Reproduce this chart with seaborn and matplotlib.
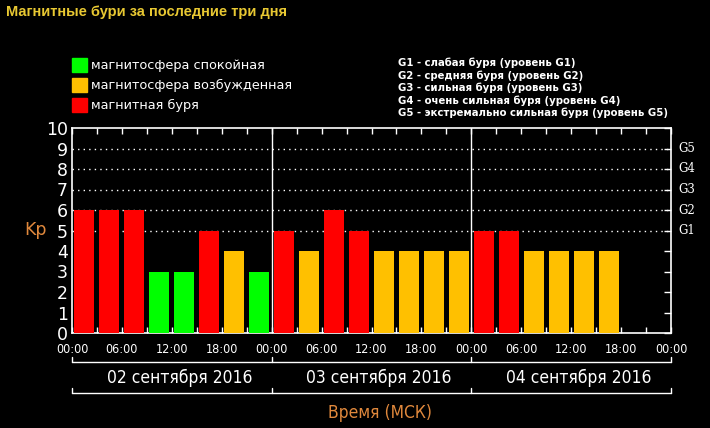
import matplotlib
matplotlib.use("Agg")
import matplotlib.pyplot as plt
from matplotlib.patches import Rectangle
import seaborn as sns
import pandas as pd

# ---------------- data ----------------
slot_start = [0, 3, 6, 9, 12, 15, 18, 21,
              24, 27, 30, 33, 36, 39, 42, 45,
              48, 51, 54, 57, 60, 63]
kp = [6, 6, 6, 3, 3, 5, 4, 3,
      5, 4, 6, 5, 4, 4, 4, 4,
      5, 5, 4, 4, 4, 4]
day_labels = ["02 сентября 2016", "03 сентября 2016", "04 сентября 2016"]
xtick_pos = [0, 6, 12, 18, 24, 30, 36, 42, 48, 54, 60, 66, 72]
xtick_labels = ["00:00", "06:00", "12:00", "18:00"] * 3 + ["00:00"]
g_levels = [5, 6, 7, 8, 9]
g_labels = ["G1", "G2", "G3", "G4", "G5"]
legend_labels = ["магнитосфера спокойная", "магнитосфера возбужденная", "магнитная буря"]
g_descr = ["G1 - слабая буря (уровень G1)",
           "G2 - средняя буря (уровень G2)",
           "G3 - сильная буря (уровень G3)",
           "G4 - очень сильная буря (уровень G4)",
           "G5 - экстремально сильная буря (уровень G5)"]
title = "Магнитные бури за последние три дня"

GREEN, ORANGE, RED = "#00ff00", "#ffc000", "#ff0000"
palette = {"quiet": GREEN, "active": ORANGE, "storm": RED}
level = ["quiet" if v < 4 else ("active" if v == 4 else "storm") for v in kp]
df = pd.DataFrame({"t": [s + 1.5 for s in slot_start], "kp": kp, "level": level})

# ---------------- style ----------------
sns.set_style("dark", rc={"axes.facecolor": "black", "figure.facecolor": "black",
                          "axes.edgecolor": "white", "axes.grid": False})
plt.rcParams["font.family"] = ["DejaVu Sans"]

W, H = 710, 428
fig = plt.figure(figsize=(W / 100, H / 100), dpi=100)
fig.patch.set_facecolor("black")
L, R, T, B = 72, 671, 128, 333
ax = fig.add_axes([L / W, 1 - B / H, (R - L) / W, (B - T) / H])
ax.set_facecolor("black")

def fx(x):
    return x / W

def fy(y):
    return 1 - y / H

sns.barplot(data=df, x="t", y="kp", hue="level", palette=palette, native_scale=True,
            dodge=False, errorbar=None, legend=False, ax=ax, width=0.8,
            saturation=1, linewidth=0, zorder=3)

ax.set_xlim(0, 72)
ax.set_ylim(0, 10)
ax.set_xlabel("")
ax.set_ylabel("")

for s in ax.spines.values():
    s.set_color("white")
    s.set_linewidth(1.2)

# dotted gridlines at G levels
for g in g_levels:
    ax.axhline(g, color="white", lw=1, ls=(0, (1, 3)), zorder=1)
# day separators
for d in (24, 48):
    ax.axvline(d, color="white", lw=1, zorder=1)

NARROW = dict(family="DejaVu Sans", fontstretch="condensed")

ax.set_xticks(xtick_pos)
ax.set_xticklabels(xtick_labels, fontsize=9, color="white", **NARROW)
ax.set_xticks(list(range(0, 73, 3)), minor=True)
ax.tick_params(axis="x", which="both", direction="in", top=True, bottom=True,
               length=4, color="white", width=1, pad=7)
ax.set_yticks(range(0, 11))
ax.set_yticklabels([str(i) for i in range(0, 11)], fontsize=12.5, color="white")
ax.tick_params(axis="y", which="both", direction="in", left=False, right=True,
               length=5, color="white", width=1, pad=3)

# G labels on right
for g, lab in zip(g_levels, g_labels):
    ax.text(1.012, g, lab, transform=ax.get_yaxis_transform(), color="white",
            fontsize=8.5, family="DejaVu Serif", va="center", ha="left")

# brackets below axis
xt = ax.get_xaxis_transform()
def ya(ypix):
    return (B - ypix) / (B - T)

for ypix in (362, 393):
    ax.plot([0, 72], [ya(ypix), ya(ypix)], color="white", lw=1, transform=xt, clip_on=False)
    for d in (0, 24, 48, 72):
        ax.plot([d, d], [ya(ypix), ya(ypix - 5)], color="white", lw=1, transform=xt, clip_on=False)

for i, lab in enumerate(day_labels):
    ax.text(12.9 + 24 * i, ya(378), lab, transform=xt, color="white", fontsize=12.5,
            ha="center", va="center", **NARROW)

ax.text(37, ya(413), "Время (МСК)", transform=xt, color="#e0883c", fontsize=12.5,
        ha="center", va="center", **NARROW)

fig.text(fx(35), fy(230), "Kp", color="#e0883c", fontsize=12.5, ha="center", va="center")

# title
fig.text(fx(6), fy(12), title, color="#e8c832", fontsize=10.5, fontweight="bold",
         family=["Liberation Sans", "DejaVu Sans"], ha="left", va="center")

# legend squares
for i, (lab, col) in enumerate(zip(legend_labels, [GREEN, ORANGE, RED])):
    yc = 65 + 20 * i
    fig.patches.append(Rectangle((fx(72), fy(yc + 7)), 15 / W, 14 / H,
                                 transform=fig.transFigure, color=col, figure=fig))
    fig.text(fx(91), fy(yc), lab, color="white", fontsize=9.3, ha="left", va="center")

# G description
for i, txt in enumerate(g_descr):
    fig.text(fx(398), fy(63 + 12.5 * i), txt, color="white", fontsize=7.3,
             fontweight="bold", ha="left", va="center")

fig.savefig("out.png", dpi=100, facecolor="black")
